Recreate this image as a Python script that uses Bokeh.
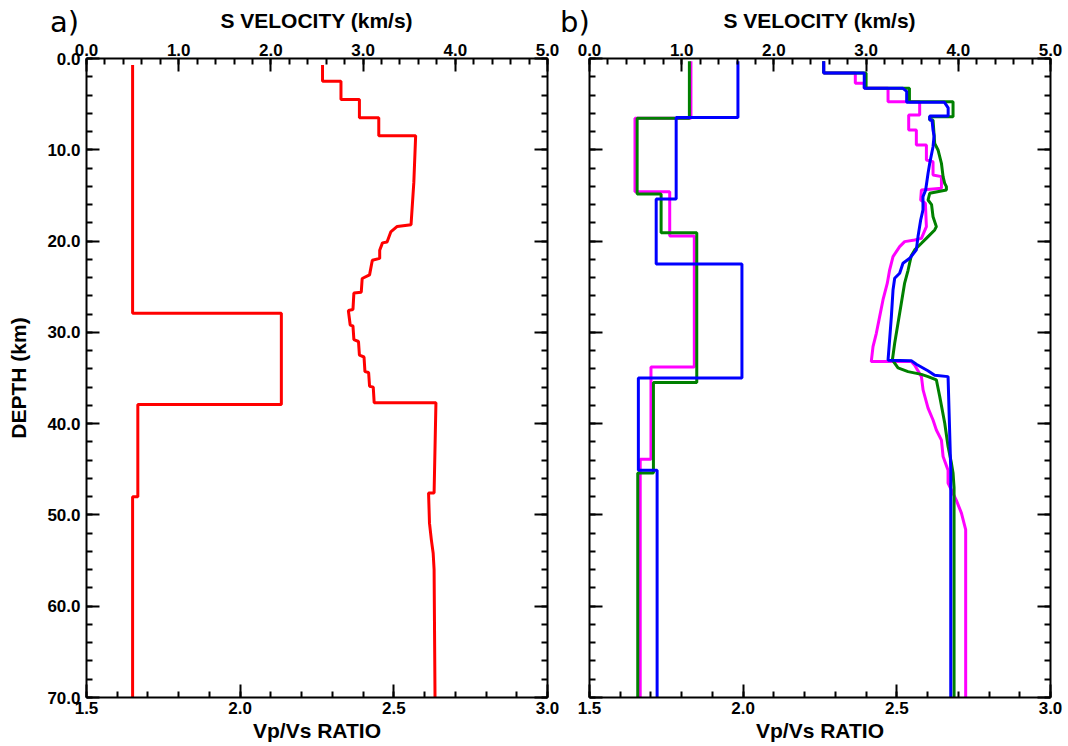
from bokeh.plotting import figure
from bokeh.models import (Range1d, LinearAxis, SingleIntervalTicker, PrintfTickFormatter,
                          CustomJSTickFormatter, Div)
from bokeh.layouts import row, column
from bokeh.embed import file_html
from bokeh.resources import INLINE

# ---------------- data ----------------
# panel a: S velocity (km/s) vs depth (km)
a_vs_depth = [0.7, 2.5, 2.5, 4.5, 4.5, 6.5, 6.5, 8.45, 8.45, 13.6, 18.2, 18.4, 19.0, 20.1, 20.2,
              21.0, 21.9, 22.1, 23.7, 24.1, 25.6, 25.7, 27.5, 27.6, 29.2, 29.3, 30.8, 31.0, 32.5,
              32.7, 34.3, 34.4, 35.9, 36.0, 37.7, 37.7, 47.6, 47.6, 50.9, 52.7, 54.2, 56.0, 70.0]
a_vs = [2.56, 2.56, 2.76, 2.76, 2.96, 2.96, 3.17, 3.17, 3.57, 3.55, 3.52, 3.37, 3.30, 3.26, 3.21,
        3.18, 3.18, 3.10, 3.07, 2.99, 2.98, 2.90, 2.89, 2.84, 2.86, 2.89, 2.90, 2.95, 2.96,
        3.01, 3.02, 3.06, 3.07, 3.11, 3.12, 3.79, 3.77, 3.71, 3.72, 3.74, 3.76, 3.77, 3.78]
# panel a: Vp/Vs ratio vs depth
a_ratio_depth = [0.7, 27.9, 27.9, 37.9, 37.9, 48.0, 48.0, 70.0]
a_ratio = [1.65, 1.65, 2.134, 2.134, 1.667, 1.667, 1.65, 1.65]

# panel b: Vp/Vs ratios
b_mag_ratio_depth = [0.3, 6.55, 6.55, 14.6, 14.6, 19.45, 19.45, 33.8, 33.8, 43.9, 43.9, 70.0]
b_mag_ratio = [1.83, 1.83, 1.648, 1.648, 1.761, 1.761, 1.841, 1.841, 1.700, 1.700, 1.665, 1.665]
b_grn_ratio_depth = [0.3, 6.55, 6.55, 14.85, 14.85, 19.1, 19.1, 35.5, 35.5, 45.4, 45.4, 70.0]
b_grn_ratio = [1.825, 1.825, 1.655, 1.655, 1.733, 1.733, 1.849, 1.849, 1.708, 1.708, 1.657, 1.657]
b_blu_ratio_depth = [0.3, 6.45, 6.45, 15.4, 15.4, 22.5, 22.5, 35.0, 35.0, 45.1, 45.1, 70.0]
b_blu_ratio = [1.983, 1.983, 1.782, 1.782, 1.717, 1.717, 1.996, 1.996, 1.659, 1.659, 1.720, 1.720]

# panel b: S velocities
b_mag_vs_depth = [0.3, 1.6, 1.6, 2.72, 2.72, 3.27, 3.27, 4.73, 4.73, 6.19, 6.19, 7.83, 7.83, 9.47,
                  9.47, 11.12, 11.3, 12.76, 12.94, 14.22, 14.4, 15.5, 15.86, 18.42, 19.7, 19.88,
                  20.06, 20.61, 21.7, 23.17, 24.62, 26.45, 28.28, 30.1, 31.57, 33.2, 33.2, 33.6,
                  34.85, 36.3, 38.3, 39.6, 40.7, 41.8, 43.6, 45.1, 46.5, 48.4, 49.8, 51.6, 70.0]
b_mag_vs = [2.54, 2.54, 2.883, 2.883, 2.98, 2.98, 3.238, 3.238, 3.581, 3.581, 3.462, 3.462, 3.545,
            3.545, 3.654, 3.654, 3.726, 3.726, 3.817, 3.817, 3.60, 3.592, 3.643, 3.654, 3.60, 3.527,
            3.418, 3.364, 3.292, 3.255, 3.23, 3.183, 3.147, 3.111, 3.075, 3.056, 3.49, 3.527,
            3.60, 3.618, 3.672, 3.726, 3.762, 3.817, 3.835, 3.889, 3.889, 3.979, 4.034, 4.08, 4.08]
b_grn_vs_depth = [0.3, 1.6, 1.6, 3.27, 3.27, 4.73, 4.73, 6.37, 6.37, 6.74, 6.74, 9.29, 10.02, 11.48,
                  12.95, 13.7, 14.04, 14.4, 14.77, 15.5, 16.0, 17.33, 18.42, 18.78, 19.51, 20.24,
                  20.97, 21.6, 23.2, 24.6, 26.81, 29.0, 31.2, 33.02, 33.9, 34.3, 34.6, 34.85, 35.2,
                  37.0, 39.95, 42.5, 44.3, 45.4, 47.0, 70.0]
b_grn_vs = [2.54, 2.54, 3.00, 3.00, 3.47, 3.47, 3.943, 3.943, 3.69, 3.69, 3.726, 3.744, 3.78, 3.817,
            3.835, 3.853, 3.871, 3.871, 3.69, 3.672, 3.71, 3.726, 3.762, 3.744, 3.672, 3.60,
            3.527, 3.49, 3.455, 3.418, 3.382, 3.346, 3.31, 3.285, 3.346, 3.455, 3.60, 3.672, 3.762,
            3.798, 3.853, 3.889, 3.925, 3.943, 3.954, 3.954]
b_blu_vs_depth = [0.3, 1.6, 1.6, 3.27, 3.27, 3.6, 4.8, 4.8, 5.4, 6.3, 6.3, 6.74, 6.74, 7.83, 8.5,
                  9.66, 11.48, 12.58, 14.40, 15.13, 16.59, 17.69, 19.51, 20.97, 21.89, 22.43,
                  23.53, 24.08, 25.36, 28.28, 30.83, 33.05, 33.1, 33.5, 34.2, 34.7, 34.85, 45.0, 70.0]
b_blu_vs = [2.54, 2.54, 2.98, 2.98, 3.40, 3.44, 3.44, 3.85, 3.89, 3.89, 3.69, 3.69, 3.715, 3.726,
            3.737, 3.726, 3.69, 3.672, 3.646, 3.617, 3.617, 3.592, 3.563, 3.545, 3.473, 3.40,
            3.364, 3.31, 3.292, 3.274, 3.255, 3.238, 3.49, 3.545, 3.67, 3.744, 3.889, 3.918, 3.918]

panel_tags = ["a)", "b)"]
top_axis_title = "S VELOCITY (km/s)"
bottom_axis_title = "Vp/Vs RATIO"
depth_axis_title = "DEPTH (km)"

VS_RANGE = (0.0, 5.0)
RATIO_RANGE = (1.5, 3.0)
DEPTH_RANGE = (70.0, 0.0)

FONT = "Liberation Sans"
TAG_FONT = "DejaVu Sans"
TICK_SIZE = "17px"
LABEL_SIZE = "21px"
HEADER_H = 34


def style_axis(ax, show_labels=True):
    ax.axis_line_width = 2
    ax.axis_line_color = "black"
    ax.major_tick_in = 13
    ax.major_tick_out = 0
    ax.minor_tick_in = 6
    ax.minor_tick_out = 0
    ax.major_tick_line_width = 2
    ax.minor_tick_line_width = 2
    ax.major_tick_line_color = "black"
    ax.minor_tick_line_color = "black"
    ax.major_label_text_font = FONT
    ax.major_label_text_font_style = "bold"
    ax.major_label_text_font_size = TICK_SIZE
    ax.major_label_text_color = "black"
    ax.major_label_standoff = 4
    ax.axis_label_text_font = FONT
    ax.axis_label_text_font_style = "bold"
    ax.axis_label_text_font_size = LABEL_SIZE
    ax.axis_label_text_color = "black"
    ax.axis_label_standoff = 4
    if not show_labels:
        ax.formatter = CustomJSTickFormatter(code="return ''")
        ax.major_label_standoff = 0


def make_panel(width, border_left, border_right, left_labels):
    p = figure(width=width, height=746 - HEADER_H, x_range=Range1d(*VS_RANGE),
               y_range=Range1d(*DEPTH_RANGE),
               x_axis_location=None, y_axis_location=None, output_backend="svg",
               toolbar_location=None, min_border_left=border_left, min_border_right=border_right,
               min_border_top=58 - HEADER_H, min_border_bottom=49)
    p.extra_x_ranges = {"ratio": Range1d(*RATIO_RANGE)}
    for g in p.grid:
        g.visible = False
    p.outline_line_color = None
    p.background_fill_color = None
    p.border_fill_color = None

    top = LinearAxis(ticker=SingleIntervalTicker(interval=1, num_minor_ticks=5),
                     formatter=PrintfTickFormatter(format="%.1f"))
    style_axis(top)
    top.major_label_standoff = 3
    p.add_layout(top, "above")

    bottom = LinearAxis(x_range_name="ratio",
                        ticker=SingleIntervalTicker(interval=0.5, num_minor_ticks=5),
                        formatter=PrintfTickFormatter(format="%.1f"),
                        axis_label=bottom_axis_title)
    style_axis(bottom)
    bottom.axis_label_standoff = 2
    p.add_layout(bottom, "below")

    left = LinearAxis(ticker=SingleIntervalTicker(interval=10, num_minor_ticks=5),
                      formatter=PrintfTickFormatter(format="%.1f"),
                      axis_label=depth_axis_title if left_labels else None)
    style_axis(left, show_labels=left_labels)
    if left_labels:
        left.major_label_standoff = 6
        left.axis_label_standoff = 14
    p.add_layout(left, "left")

    right = LinearAxis(ticker=SingleIntervalTicker(interval=10, num_minor_ticks=5))
    style_axis(right, show_labels=False)
    p.add_layout(right, "right")
    return p


pa = make_panel(559, 86, 12, True)
pa.line(a_ratio, a_ratio_depth, x_range_name="ratio", line_color="#ff0000", line_width=3)
pa.line(a_vs, a_vs_depth, line_color="#ff0000", line_width=3)

pb = make_panel(505, 30, 14, False)
pb.line(b_mag_ratio, b_mag_ratio_depth, x_range_name="ratio", line_color="#ff00ff", line_width=3)
pb.line(b_grn_ratio, b_grn_ratio_depth, x_range_name="ratio", line_color="#008000", line_width=3)
pb.line(b_blu_ratio, b_blu_ratio_depth, x_range_name="ratio", line_color="#0000ff", line_width=3)
pb.line(b_mag_vs, b_mag_vs_depth, line_color="#ff00ff", line_width=3)
pb.line(b_grn_vs, b_grn_vs_depth, line_color="#008000", line_width=3)
pb.line(b_blu_vs, b_blu_vs_depth, line_color="#0000ff", line_width=3)

# header strip: panel tags and the top-axis titles, aligned to each panel's frame
frames = [(86, 461, 50), (589, 461, 560)]   # (frame left, frame width, tag left) in px
parts = ['<div style="position:relative;width:1064px;height:%dpx;overflow:visible;'
         'font-family:\'%s\';color:black;">' % (HEADER_H, FONT)]
for (fl, fw, tl), tag in zip(frames, panel_tags):
    parts.append('<div style="position:absolute;left:%dpx;top:6px;font-family:\'%s\';'
                 'font-size:29px;line-height:32px;white-space:nowrap;">%s</div>'
                 % (tl, TAG_FONT, tag))
    parts.append('<div style="position:absolute;left:%dpx;width:%dpx;top:9px;text-align:center;'
                 'font-size:%s;font-weight:bold;line-height:24px;white-space:nowrap;">%s</div>'
                 % (fl, fw, LABEL_SIZE, top_axis_title))
parts.append('</div>')
header = Div(text="".join(parts), width=1064, height=HEADER_H, margin=0)

layout = column(header, row(pa, pb), spacing=0)
open("out.html", "w").write(file_html(layout, INLINE))
